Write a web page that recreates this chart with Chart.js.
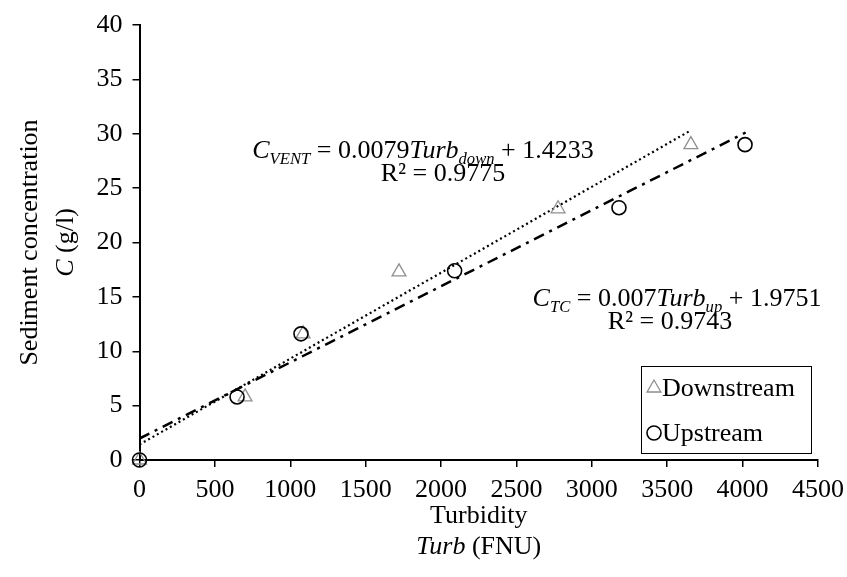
<!DOCTYPE html>
<html>
<head>
<meta charset="utf-8">
<script src="https://cdn.jsdelivr.net/npm/chart.js@4/dist/chart.umd.min.js"></script>
<style>
  html, body { margin: 0; padding: 0; background: #ffffff; }
  canvas { display: block; }
</style>
</head>
<body>
<canvas id="chart" width="847" height="577"></canvas>
<script>
// Measured samples: turbidity (FNU) vs sediment concentration (g/l)
const downstreamTurb = [0, 700, 1085, 1721, 2776, 3657];
const downstreamConc = [0, 5.8, 11.6, 17.3, 23.1, 29.0];
const upstreamTurb = [0, 647, 1071, 2090, 3180, 4016];
const upstreamConc = [0, 5.8, 11.6, 17.4, 23.2, 29.0];

// Linear fits [slope, intercept] and the turbidity span each one covers
const downFit = [0.0079, 1.4233];
const upFit = [0.007, 1.9751];
const downFitSpan = [0, 3650];
const upFitSpan = [0, 4020];
const downR2 = '0.9775';
const upR2 = '0.9743';

// Axis ticks
const xTicks = [0, 500, 1000, 1500, 2000, 2500, 3000, 3500, 4000, 4500];
const yTicks = [0, 5, 10, 15, 20, 25, 30, 35, 40];

const SERIF = '"Liberation Serif", "Times New Roman", serif';
const FS = 26;

const toPoints = (xs, ys) => xs.map((x, i) => ({ x: x, y: ys[i] }));
const fitLine = (fit, span) => span.map(x => ({ x: x, y: fit[0] * x + fit[1] }));

// Draws a run of text pieces (italic / subscript) centred on cx
function drawRich(ctx, parts, cx, baseline, size) {
  const fontOf = p => (p.i ? 'italic ' : '') + (p.s ? size * 0.64 : size) + 'px ' + SERIF;
  let total = 0;
  parts.forEach(p => { ctx.font = fontOf(p); p.w = ctx.measureText(p.t).width; total += p.w; });
  let x = cx - total / 2;
  ctx.textAlign = 'left';
  ctx.textBaseline = 'alphabetic';
  parts.forEach(p => {
    ctx.font = fontOf(p);
    ctx.fillText(p.t, x, baseline + (p.s ? size * 0.24 : 0));
    x += p.w;
  });
}

const annotations = {
  id: 'annotations',
  afterDraw(chart) {
    const ctx = chart.ctx;
    const a = chart.chartArea;
    ctx.save();
    ctx.fillStyle = '#000';

    // Fit equations
    drawRich(ctx, [
      { t: 'C', i: true }, { t: 'VENT', i: true, s: true },
      { t: ' = ' + downFit[0] }, { t: 'Turb', i: true }, { t: 'down', i: true, s: true },
      { t: ' + ' + downFit[1] }
    ], 423, 158, FS);
    drawRich(ctx, [{ t: 'R\u00B2 = ' + downR2 }], 443, 181, FS);

    drawRich(ctx, [
      { t: 'C', i: true }, { t: 'TC', i: true, s: true },
      { t: ' = ' + upFit[0] }, { t: 'Turb', i: true }, { t: 'up', i: true, s: true },
      { t: ' + ' + upFit[1] }
    ], 677, 306, FS);
    drawRich(ctx, [{ t: 'R\u00B2 = ' + upR2 }], 670, 329, FS);

    // X axis title
    const xc = (a.left + a.right) / 2;
    drawRich(ctx, [{ t: 'Turbidity' }], xc, 523, FS);
    drawRich(ctx, [{ t: 'Turb', i: true }, { t: ' (FNU)' }], xc, 554, FS);

    // Y axis title (rotated)
    const yc = (a.top + a.bottom) / 2;
    ctx.save();
    ctx.translate(0, yc);
    ctx.rotate(-Math.PI / 2);
    drawRich(ctx, [{ t: 'Sediment concentration' }], 0, 37, FS);
    drawRich(ctx, [{ t: 'C', i: true }, { t: ' (g/l)' }], 0, 73, FS);
    ctx.restore();

    // Legend box
    const lx = 641, ly = 366, lw = 170, lh = 87;
    ctx.strokeStyle = '#000';
    ctx.lineWidth = 1;
    ctx.strokeRect(lx + 0.5, ly + 0.5, lw, lh);
    const items = [
      { ds: chart.data.datasets[0], label: 'Downstream', y: ly + 22 },
      { ds: chart.data.datasets[1], label: 'Upstream', y: ly + 67 }
    ];
    items.forEach(it => {
      ctx.strokeStyle = it.ds.borderColor;
      ctx.fillStyle = 'rgba(0,0,0,0)';
      ctx.lineWidth = it.ds.borderWidth;
      Chart.helpers.drawPoint(ctx, {
        pointStyle: it.ds.pointStyle, radius: it.ds.pointRadius, borderWidth: it.ds.borderWidth
      }, lx + 13, it.y);
      ctx.fillStyle = '#000';
      ctx.font = FS + 'px ' + SERIF;
      ctx.textBaseline = 'middle';
      ctx.textAlign = 'left';
      ctx.fillText(it.label, lx + 21, it.y + 1);
    });
    ctx.restore();
  }
};

new Chart(document.getElementById('chart'), {
  type: 'scatter',
  data: {
    datasets: [
      {
        label: 'Downstream',
        data: toPoints(downstreamTurb, downstreamConc),
        pointStyle: 'triangle',
        pointRadius: 8,
        pointHoverRadius: 8,
        borderColor: '#8f8f8f',
        backgroundColor: 'rgba(0,0,0,0)',
        borderWidth: 1.3,
        showLine: false,
        clip: false,
        order: 1
      },
      {
        label: 'Upstream',
        data: toPoints(upstreamTurb, upstreamConc),
        pointStyle: 'circle',
        pointRadius: 7,
        pointHoverRadius: 7,
        borderColor: '#000000',
        backgroundColor: 'rgba(0,0,0,0)',
        borderWidth: 1.6,
        showLine: false,
        clip: false,
        order: 0
      },
      {
        label: 'Downstream fit',
        data: fitLine(downFit, downFitSpan),
        showLine: true,
        borderColor: '#000000',
        borderWidth: 2.2,
        borderDash: [2, 3],
        pointRadius: 0,
        fill: false,
        order: 2
      },
      {
        label: 'Upstream fit',
        data: fitLine(upFit, upFitSpan),
        showLine: true,
        borderColor: '#000000',
        borderWidth: 2.5,
        borderDash: [11, 6, 3, 6],
        pointRadius: 0,
        fill: false,
        order: 3
      }
    ]
  },
  options: {
    responsive: false,
    animation: false,
    events: [],
    layout: { padding: { top: 25, right: 29, bottom: 0, left: 0 } },
    plugins: {
      legend: { display: false },
      tooltip: { enabled: false },
      title: { display: false }
    },
    scales: {
      x: {
        type: 'linear',
        min: 0,
        max: 4500,
        afterBuildTicks: s => { s.ticks = xTicks.map(v => ({ value: v })); },
        afterFit: s => { s.height = 117; s.paddingLeft = 0; s.paddingRight = 0; },
        ticks: {
          color: '#000',
          font: { family: SERIF, size: FS },
          padding: 8,
          maxRotation: 0,
          autoSkip: false,
          callback: v => String(v)
        },
        grid: {
          display: true,
          drawOnChartArea: false,
          drawTicks: true,
          tickLength: 7,
          color: '#000',
          lineWidth: 1.5
        },
        border: { display: true, color: '#000', width: 2 }
      },
      y: {
        type: 'linear',
        min: 0,
        max: 40,
        afterBuildTicks: s => { s.ticks = yTicks.map(v => ({ value: v })); },
        afterFit: s => { s.width = 139.5; s.paddingTop = 0; s.paddingBottom = 0; },
        ticks: {
          color: '#000',
          font: { family: SERIF, size: FS },
          padding: 10,
          callback: v => String(v)
        },
        grid: {
          display: true,
          drawOnChartArea: false,
          drawTicks: true,
          tickLength: 7,
          color: '#000',
          lineWidth: 1.5
        },
        border: { display: true, color: '#000', width: 2 }
      }
    }
  },
  plugins: [annotations]
});
</script>
</body>
</html>
